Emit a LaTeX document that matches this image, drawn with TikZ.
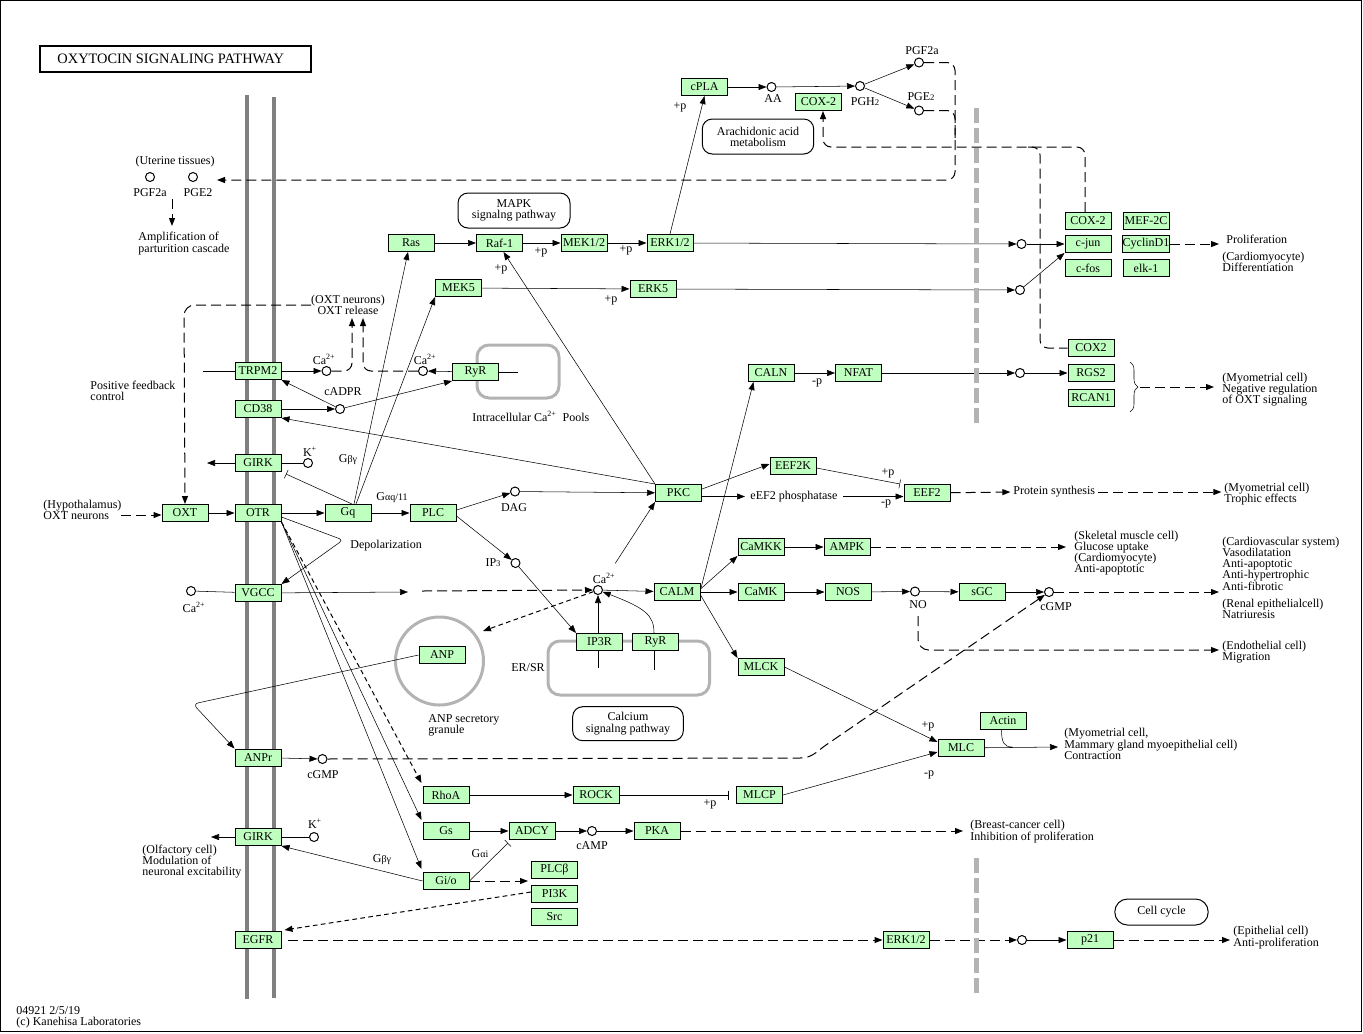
\documentclass[tikz,border=0pt]{standalone}
\usepackage{fontspec}
\setmainfont{Liberation Serif}
\usetikzlibrary{arrows.meta,decorations.pathreplacing,calc,backgrounds}
\definecolor{kgreen}{HTML}{BFFFBF}
\definecolor{kmem}{HTML}{808080}
\definecolor{kbar}{HTML}{B3B3B3}
\newcommand{\kf}{\fontsize{9pt}{8.4pt}\selectfont}
\newcommand{\ksub}[1]{{\fontsize{6.5pt}{6.5pt}\selectfont #1}}
\newcommand{\ksm}[1]{{\fontsize{7.5pt}{7.5pt}\selectfont #1}}
\begin{document}
\begin{tikzpicture}[x=0.75pt,y=-0.75pt,line width=0.7pt,
  gene/.style={draw,fill=kgreen,minimum width=34.5pt,minimum height=12.75pt,inner sep=0pt,font=\kf,line width=0.75pt},
  cpd/.style={circle,draw,fill=white,minimum size=6.75pt,inner sep=0pt,line width=0.75pt},
  txt/.style={inner sep=0pt,font=\kf,align=left},
  ctxt/.style={inner sep=0pt,font=\kf,align=center},
  pw/.style={draw,rounded corners=7.5pt,font=\kf,align=center,inner sep=0pt,line width=0.75pt},
  arr/.style={-{Triangle[length=6pt,width=4.5pt]}},
  inh/.style={-{Bar[width=6.75pt]}},
  kdash/.style={dash pattern=on 7.5pt off 3.75pt,line width=0.75pt},
  sdash/.style={dash pattern=on 3.5pt off 2.5pt,line width=0.75pt},
]
\useasboundingbox (0,0) rectangle (1363,1033);
\draw[line width=0.75pt] (0.5,0.5) rectangle (1361.5,1031.5);

% title
\draw[line width=1.5pt] (40,46) rectangle (311,72);
\node[txt,anchor=west,font=\fontsize{10.8pt}{12pt}\selectfont] (title) at (57,59) {OXYTOCIN SIGNALING PATHWAY};

% genes
\node[gene] (cPLA) at (704.5,87) {cPLA};
\node[gene] (COXt) at (818.5,102) {COX-2};
\node[gene] (Ras) at (411,243) {Ras};
\node[gene] (Raf) at (499.5,243) {Raf-1};
\node[gene] (MEKa) at (584,243) {MEK1/2};
\node[gene] (ERKa) at (670,243) {ERK1/2};
\node[gene] (MEKf) at (458.5,288) {MEK5};
\node[gene] (ERKf) at (653,289) {ERK5};
\node[gene] (COXr) at (1088,221) {COX-2};
\node[gene] (MEF) at (1146,221) {MEF-2C};
\node[gene] (cjun) at (1088,244) {c-jun};
\node[gene] (CycD) at (1146,244) {CyclinD1};
\node[gene] (cfos) at (1088,268) {c-fos};
\node[gene] (elk) at (1146,268) {elk-1};
\node[gene] (COXb) at (1091,348) {COX2};
\node[gene] (RGS) at (1091,373) {RGS2};
\node[gene] (RCAN) at (1091,398) {RCAN1};
\node[gene] (TRPM) at (258,371) {TRPM2};
\node[gene] (CD) at (258,409) {CD38};
\node[gene] (GIRKa) at (258,463) {GIRK};
\node[gene] (OXT) at (185,513) {OXT};
\node[gene] (OTR) at (258,513) {OTR};
\node[gene] (Gq) at (348,513) {Gq};
\node[gene] (PLC) at (433,513) {PLC};
\node[gene] (VGCC) at (258,593) {VGCC};
\node[gene] (RyRa) at (475.5,372) {RyR};
\node[gene] (CALN) at (771,373) {CALN};
\node[gene] (NFAT) at (858.5,373) {NFAT};
\node[gene] (EEFK) at (793,466) {EEF2K};
\node[gene] (PKC) at (678.5,493) {PKC};
\node[gene] (EEF) at (927,493) {EEF2};
\node[gene] (CALM) at (677,592) {CALM};
\node[gene] (CaMKK) at (761,547) {CaMKK};
\node[gene] (AMPK) at (847,547) {AMPK};
\node[gene] (CaMK) at (761,592) {CaMK};
\node[gene] (NOS) at (848,592) {NOS};
\node[gene] (sGC) at (982,592) {sGC};
\node[gene] (IPR) at (599.5,642) {IP3R};
\node[gene] (RyRb) at (655.5,642) {RyR};
\node[gene] (ANP) at (442,655) {ANP};
\node[gene] (MLCK) at (761,667) {MLCK};
\node[gene] (Actin) at (1003,721) {Actin};
\node[gene] (MLC) at (961,748) {MLC};
\node[gene] (ANPr) at (258,757.5) {ANPr};
\node[gene] (RhoA) at (446,795) {RhoA};
\node[gene] (ROCK) at (596,795) {ROCK};
\node[gene] (MLCP) at (759.5,795) {MLCP};
\node[gene] (GIRKb) at (258,837) {GIRK};
\node[gene] (Gs) at (446,831) {Gs};
\node[gene] (ADCY) at (532,831) {ADCY};
\node[gene] (PKA) at (657,831) {PKA};
\node[gene] (Gio) at (446,881) {Gi/o};
\node[gene] (PLCb) at (554.5,870) {PLCβ};
\node[gene] (PIK) at (554.5,894) {PI3K};
\node[gene] (Src) at (554.5,917) {Src};
\node[gene] (EGFR) at (258,940) {EGFR};
\node[gene] (ERKb) at (906,940) {ERK1/2};
\node[gene] (p21) at (1090,940) {p21};

% compounds
\node[cpd] (cAA) at (771.5,87) {};
\node[cpd] (cPGH) at (860,86) {};
\node[cpd] (cPGF) at (919,62.5) {};
\node[cpd] (cPGE) at (919,110.5) {};
\node[cpd] (uPGF) at (150,177) {};
\node[cpd] (uPGE) at (193,177) {};
\node[cpd] (cJa) at (1021.5,244) {};
\node[cpd] (cJb) at (1020,290) {};
\node[cpd] (cR) at (1020,373) {};
\node[cpd] (cCaT) at (326.5,371) {};
\node[cpd] (cCaR) at (423,371) {};
\node[cpd] (cADPR) at (340,409) {};
\node[cpd] (cKa) at (308,463) {};
\node[cpd] (cCaV) at (191,591) {};
\node[cpd] (cDAG) at (515,491.5) {};
\node[cpd] (cIP) at (515.5,563) {};
\node[cpd] (cCa) at (598,590) {};
\node[cpd] (cNO) at (915,591.5) {};
\node[cpd] (cGr) at (1049,592) {};
\node[cpd] (cGl) at (322.5,759) {};
\node[cpd] (cAMP) at (592,831) {};
\node[cpd] (cKb) at (314,837) {};
\node[cpd] (cP) at (1022,940) {};

% pathway boxes
\node[pw,minimum width=84pt,minimum height=26.25pt] (pMAPK) at (514,210.5) {MAPK\\signalng pathway};
\node[pw,minimum width=83.6pt,minimum height=26.25pt] (pAA) at (758,136.5) {Arachidonic acid\\metabolism};
\node[pw,minimum width=83pt,minimum height=25.5pt] (pCa) at (628,723.7) {Calcium\\signalng pathway};
\node[pw,rounded corners=9.5pt,minimum width=70pt,minimum height=19.5pt] (pCC) at (1161.5,912) {Cell cycle};

% labels
\node[ctxt] (tUter) at (175,162) {(Uterine tissues)};
\node[ctxt] (tuPGF) at (150,193) {PGF2a};
\node[ctxt] (tuPGE) at (198,193) {PGE2};
\node[txt,anchor=west] (tAmp) at (138,243.5) {Amplification of\\parturition cascade};
\node[ctxt] (tOXTr) at (348,304.5) {(OXT neurons)\\OXT release};
\node[txt,anchor=west] (tPos) at (90,391) {Positive feedback\\control};
\node[txt,anchor=west] (tHyp) at (43,509.5) {(Hypothalamus)\\OXT neurons};
\node[ctxt] (tCaT) at (324,359) {Ca\textsuperscript{2+}};
\node[ctxt] (tCaR) at (425,359) {Ca\textsuperscript{2+}};
\node[ctxt] (tADPR) at (343,392) {cADPR};
\node[ctxt] (tKa) at (310,452) {K\textsuperscript{+}};
\node[ctxt] (tGbg) at (348,460) {G\ksm{βγ}};
\node[ctxt] (tGaq) at (392,498) {G\ksm{αq/11}};
\node[txt,anchor=west] (tDep) at (350,546) {Depolarization};
\node[ctxt] (tCaV) at (194,607) {Ca\textsuperscript{2+}};
\node[ctxt] (tDAG) at (514,507.5) {DAG};
\node[ctxt] (tIP) at (493,563) {IP\ksub{3}};
\node[ctxt] (tCa) at (604,578) {Ca\textsuperscript{2+}};
\node[txt,anchor=west] (tPool) at (472,416) {Intracellular Ca\textsuperscript{2+}\ \ Pools};
\node[txt,anchor=west,inner xsep=3.75pt] (ephos) at (745,496.5) {eEF2 phosphatase};
\node[ctxt] (tAA) at (773,99) {AA};
\node[ctxt] (tPGH) at (865,102) {PGH\ksub{2}};
\node[ctxt] (tPGF) at (922,51) {PGF2a};
\node[ctxt] (tPGE) at (921,97) {PGE\ksub{2}};
\node[ctxt] (tNO) at (918,605) {NO};
\node[ctxt] (tcGr) at (1056,607) {cGMP};
\node[ctxt] (tcGl) at (323,775) {cGMP};
\node[ctxt] (tcAMP) at (592,846) {cAMP};
\node[ctxt] (tER) at (528,668) {ER/SR};
\node[txt,anchor=west] (tGran) at (428,725.5) {ANP secretory\\granule};
\node[ctxt] (tGai) at (480,854) {G\ksm{αi}};
\node[ctxt] (tGbg2) at (382,860) {G\ksm{βγ}};
\node[ctxt] (tKb) at (315,824) {K\textsuperscript{+}};
\node[txt,anchor=west] (tOlf) at (142,861.5) {(Olfactory cell)\\Modulation of\\neuronal excitability};
\node[ctxt] (p1) at (680,107) {+p};
\node[ctxt] (p2) at (541,252) {+p};
\node[ctxt] (p3) at (626,250) {+p};
\node[ctxt] (p4) at (501,269) {+p};
\node[ctxt] (p5) at (611,300) {+p};
\node[ctxt] (p6) at (888,473) {+p};
\node[ctxt] (p7) at (928,726) {+p};
\node[ctxt] (p8) at (710,804) {+p};
\node[ctxt] (m1) at (817,383) {-p};
\node[ctxt] (m2) at (886,504) {-p};
\node[ctxt] (m3) at (929,775) {-p};
\node[txt,anchor=west] (tProl) at (1226,239) {Proliferation};
\node[txt,anchor=west] (tDiff) at (1222,261.5) {(Cardiomyocyte)\\Differentiation};
\node[txt,anchor=west] (tNeg) at (1222,389.5) {(Myometrial cell)\\Negative regulation\\of OXT signaling};
\node[txt,anchor=west] (tProt) at (1013,492) {Protein synthesis};
\node[txt,anchor=west] (tTroph) at (1224,494) {(Myometrial cell)\\Trophic effects};
\node[txt,anchor=west] (tSkel) at (1074,553) {(Skeletal muscle cell)\\Glucose uptake\\(Cardiomyocyte)\\Anti-apoptotic};
\node[txt,anchor=west] (tCard) at (1222,563.5) {(Cardiovascular system)\\Vasodilatation\\Anti-apoptotic\\Anti-hypertrophic\\Anti-fibrotic};
\node[txt,anchor=west] (tRen) at (1222,608.7) {(Renal epithelialcell)\\Natriuresis};
\node[txt,anchor=west] (tEndo) at (1222,652.5) {(Endothelial cell)\\Migration};
\node[txt,anchor=west] (tContr) at (1064,744) {(Myometrial cell,\\Mammary gland myoepithelial cell)\\Contraction};
\node[txt,anchor=west] (tBreast) at (970,831.5) {(Breast-cancer cell)\\Inhibition of proliferation};
\node[txt,anchor=west] (tEpi) at (1233,937.5) {(Epithelial cell)\\Anti-proliferation};
\node[txt,anchor=west] (tCopy) at (16,1017) {04921 2/5/19\\(c) Kanehisa Laboratories};

% free ends
\coordinate (uter) at (217,180);
\coordinate (ua) at (172,199);
\coordinate (ub) at (172,226);
\coordinate (prolin) at (1219,244);
\coordinate (bra) at (1140,387);
\coordinate (negin) at (1214,387);
\coordinate (trpin) at (203,371);
\coordinate (ryrout) at (518,372);
\coordinate (relA) at (352,318);
\coordinate (relB) at (363,318);
\coordinate (pfa) at (311,305);
\coordinate (hyp) at (121,515);
\coordinate (depol) at (343,540);
\coordinate (vgout) at (408,592);
\coordinate (vgdash) at (422,591);
\coordinate (ginh) at (286,474);
\coordinate (girkouta) at (207,463);
\coordinate (ipdown) at (598,668);
\coordinate (rydown) at (654,670);
\coordinate (anpin) at (483,631);
\coordinate (eefinh) at (900,484);
\coordinate (skelin) at (1066,547);
\coordinate (cardin) at (1219,592);
\coordinate (endoin) at (1219,650);
\coordinate (contrin) at (1058,747);
\coordinate (actinend) at (1012,747);
\coordinate (breastin) at (963,831);
\coordinate (adcyinh) at (508,843);
\coordinate (gioout) at (528,881);
\coordinate (girkoutb) at (211,837);
\coordinate (epiin) at (1230,940);

\begin{pgfonlayer}{background}
% membranes and compartments
\draw[kmem,line width=3pt] (246.7,95) -- (246.7,999);
\draw[kmem,line width=3pt] (274,97) -- (274,998);
\draw[kbar,line width=2.25pt,rounded corners=9pt] (477,345) rectangle (559,398);
\draw[kbar,line width=2.25pt,rounded corners=9pt] (548,641) rectangle (709.5,695);
\draw[kbar,line width=2.25pt] (439.5,661) circle[radius=33pt];

% MAPK
\draw[arr] (Ras) -- (Raf);
\draw[arr] (Raf) -- (MEKa);
\draw[arr] (MEKa) -- (ERKa);
\draw[arr] (ERKa) -- (cJa);
\draw[arr] (cJa) -- (cjun);
\draw[arr] (MEKf) -- (ERKf);
\draw[arr] (ERKf) -- (cJb);
\draw[arr] (cJb) -- (cjun.south west);
\draw[arr] (ERKa.north) -- (cPLA.south);
\draw[arr] (cPLA) -- (cAA);
\draw[arr] (cAA) -- (cPGH);
\draw[arr] (cPGH) -- (cPGF);
\draw[arr] (cPGH) -- (cPGE);
\draw[kdash,arr,rounded corners=6pt] (cPGF) -- (955,62.5) -- (955,180) -- (uter);
\draw[kdash,rounded corners=6pt] (cPGE) -- (955,110.5) -- (955,140);
\draw[kdash,arr,rounded corners=6pt] ($(COXr.north)+(-3,0)$) -- (1085,147) -- (823,147) -- ($(COXt.south)+(4.5,0)$);
\draw[kdash,rounded corners=6pt] (1028,147) -- (1040,147) -- (1040,348) -- (COXb.west);
\draw[kdash,arr] (ua) -- (ub);
\draw[kdash,arr] (CycD) -- (prolin);
\draw[decorate,decoration={brace,amplitude=6pt}] (1130,362) -- (1130,412);
\draw[kdash,arr] (bra) -- (negin);

% calcium / TRPM2
\draw (trpin) -- (TRPM);
\draw[arr] (TRPM) -- (cCaT);
\draw[arr] (RyRa) -- (cCaR);
\draw (RyRa) -- (ryrout);
\draw[arr] (CD) -- (cADPR);
\draw[arr] (cADPR) -- (TRPM.south east);
\draw[arr] (cADPR) -- (RyRa.south west);
\draw[kdash,arr,rounded corners=6pt] (cCaT) -- (352,371) -- (relA);
\draw[kdash,arr,rounded corners=6pt] (cCaR) -- (363,371) -- (relB);
\draw[kdash,arr,rounded corners=8pt] (pfa) -- (184,305) -- (OXT.north);
\draw[kdash,arr] (hyp) -- (OXT.west |- hyp);
\draw[arr] (OXT) -- (OTR);
\draw[arr] (OTR) -- (Gq);
\draw[arr] (Gq) -- (PLC);
\draw[arr,rounded corners=3pt] ($(OTR.east)+(0,4)$) -- (depol) -- (VGCC.north east);
\draw (cCaV) -- (VGCC);
\draw[arr] (VGCC) -- (vgout);
\draw[kdash,arr] (vgdash) -- (cCa);
\draw[arr] ($(Gq.north)+(6,0)$) -- ($(Ras.south)+(-3,0)$);
\draw[arr] ($(Gq.north)+(8,0)$) -- (MEKf.south west);
\draw[inh] ($(Gq.north)+(4,0)$) -- (ginh);
\draw[arr] (GIRKa) -- (girkouta);
\draw (cKa) -- (GIRKa);

% PLC
\draw[arr] ($(PLC.east)+(0,-3)$) -- (cDAG);
\draw[arr] ($(PLC.east)+(0,3)$) -- (cIP);
\draw[arr] (cDAG) -- (PKC);
\draw[arr] (cIP) -- (IPR.north west);
\draw[arr] ($(IPR.north)+(-1.5,0)$) -- (cCa);
\draw[arr] ($(RyRb.north)+(-1.5,0)$) .. controls (654,615) and (645,608) .. (cCa);
\draw ($(IPR.south)+(-1.5,0)$) -- (ipdown);
\draw ($(RyRb.south)+(-1.5,0)$) -- (rydown);
\draw[arr] (cCa) -- (CALM);
\draw[arr,shorten <=20pt] (cCa) -- (PKC.south west);
\draw[sdash,arr] (cCa) -- (anpin);

% PKC
\draw[arr] (PKC.north west) -- ($(Raf.south)+(4,0)$);
\draw[arr] (PKC.north west) -- (CD.south east);
\draw[arr] ($(PKC.east)+(0,-4)$) -- ($(EEFK.west)+(0,-2)$);
\draw[arr] ($(PKC.east)+(0,3.5)$) -- (ephos.west);
\draw[arr] (ephos.east) -- (EEF.west |- ephos.east);
\draw[inh] ($(EEFK.east)+(0,2)$) -- (eefinh);
\draw[kdash,arr,shorten >=2pt] (EEF) -- (tProt.west);
\draw[kdash,arr,shorten <=2pt,shorten >=2pt] (tProt.east) -- (tTroph.west |- tProt.east);

% CALM
\draw[arr] ($(CALM.east)+(0,-2)$) -- ($(CALN.south west)+(6,0)$);
\draw[arr] ($(CALM.east)+(0,-3)$) -- (CaMKK.south west);
\draw[arr] (CALM) -- (CaMK);
\draw[arr] ($(CALM.east)+(0,3)$) -- (MLCK.north west);
\draw[arr] (CaMKK) -- (AMPK);
\draw[arr] (CaMK) -- (NOS);
\draw[arr] (NOS) -- (cNO);
\draw[arr] (cNO) -- (sGC);
\draw[arr] (sGC) -- (cGr);
\draw[kdash,arr] (AMPK) -- (skelin);
\draw[kdash,arr] (cGr) -- (cardin);
\draw[kdash,arr,rounded corners=8pt,shorten <=5pt] (tNO.south) -- (918,650) -- (endoin);
\draw[arr] (CALN) -- (NFAT);
\draw[arr] (NFAT) -- (cR);
\draw[arr] (cR) -- (RGS);

% MLC
\draw[arr] (MLCK.east) -- ($(MLC.north west)+(0,3)$);
\draw[arr] (MLCP.east) -- ($(MLC.west)+(0,4)$);
\draw[arr] (MLC) -- (contrin);
\draw ($(Actin.south)+(-1.5,0)$) .. controls (1001.5,742) and (1004,747) .. (actinend);
\draw[arr] (RhoA) -- (ROCK);
\draw[inh,shorten >=5.5pt] (ROCK) -- (MLCP);
\draw[arr] (Gs) -- (ADCY);
\draw[arr] (ADCY) -- (cAMP);
\draw[arr] (cAMP) -- (PKA);
\draw[kdash,arr] (PKA) -- (breastin);
\draw[inh] (Gio.east) -- (adcyinh);
\draw[kdash,arr] (Gio) -- (gioout);
\draw[sdash,arr] ($(PIK.west)+(0,-2)$) -- ($(EGFR.north east)+(3,-1)$);
\draw[arr] (Gio.west) -- (GIRKb.south east);
\draw[arr] (GIRKb) -- (girkoutb);
\draw (cKb) -- (GIRKb);

% OTR fan
\draw[arr] (OTR.south east) -- ($(Gio.north west)+(-1,-3)$);
\draw[arr] (OTR.south east) -- ($(Gs.north west)+(-1,-2)$);
\draw[sdash,arr] (OTR.south east) -- ($(RhoA.north west)+(-1,-3)$);

% ANP
\draw[arr,rounded corners=4pt] (ANP.west) -- (193,704) -- (ANPr.north west);
\draw[arr] (ANPr) -- (cGl);
\draw[kdash,arr] (cGl) -- (800,758) .. controls (812,758) and (816,752) .. (826,745) -- (cGr);

% EGFR
\draw[kdash,arr,shorten <=5pt] (EGFR) -- (ERKb);
\draw[kdash,arr] (ERKb) -- (cP);
\draw[arr] (cP) -- (p21);
\draw[kdash,arr] (p21) -- (epiin);
\end{pgfonlayer}

% grey dashed bars
\draw[kbar,line width=3.75pt,dash pattern=on 11.25pt off 3.75pt] (976.5,108) -- (976.5,425);
\draw[kbar,line width=3.75pt,dash pattern=on 11.25pt off 3.75pt] (976.5,858) -- (976.5,993);
\end{tikzpicture}
\end{document}
